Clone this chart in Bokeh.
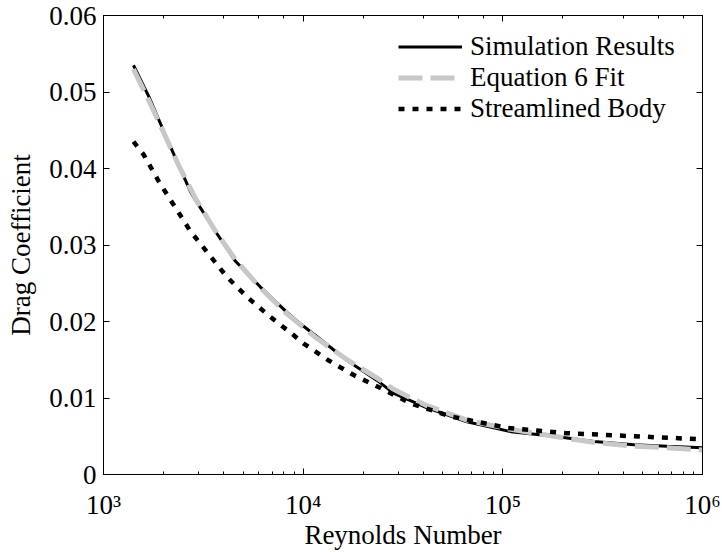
from bokeh.plotting import figure
from bokeh.models import (LogAxis, LinearAxis, Legend, LegendItem, PrintfTickFormatter,
                          FixedTicker, LogTicker)
from bokeh.embed import file_html
from bokeh.resources import INLINE

# Simulation results
sim_re = [1413, 1687, 2009, 2389, 2724, 2884, 3631, 4571, 6109, 8300, 9680, 11740,
          16600, 23450, 28450, 41700, 66100, 109600, 180000, 286000, 454000, 667000, 1000000]
sim_cd = [0.0535, 0.0494, 0.0448, 0.0403, 0.0370, 0.0359, 0.0318, 0.0279, 0.0245, 0.0212,
          0.0197, 0.0180, 0.0149, 0.0123, 0.0106, 0.0087, 0.0069, 0.0056, 0.0050, 0.0043,
          0.0039, 0.0037, 0.0035]

# Equation 6 fit
fit_re = [1413, 1700, 2000, 2400, 2900, 3600, 4600, 6100, 8300, 11700, 16600, 23500,
          28500, 41700, 66100, 109600, 180000, 286000, 454000, 667000, 1000000]
fit_cd = [0.0530, 0.0487, 0.0447, 0.0402, 0.0360, 0.0320, 0.0280, 0.0244, 0.0210, 0.0178,
          0.0150, 0.0126, 0.0111, 0.0090, 0.0071, 0.0059, 0.0050, 0.0042, 0.0037, 0.0035,
          0.0032]

# Streamlined body
str_re = [1413, 1589, 1892, 2291, 2724, 3365, 4159, 5236, 6855, 8970, 10070, 13430,
          17900, 24400, 34450, 54700, 105000, 209000, 454000, 1000000]
str_cd = [0.0435, 0.0418, 0.0383, 0.0349, 0.0318, 0.0288, 0.0258, 0.0232, 0.0206, 0.0182,
          0.0171, 0.0149, 0.0130, 0.0113, 0.0093, 0.0076, 0.0061, 0.0054, 0.0050, 0.0046]

y_ticks = [0, 0.01, 0.02, 0.03, 0.04, 0.05, 0.06]
x_tick_labels = {1000: "10³", 10000: "10⁴", 100000: "10⁵", 1000000: "10⁶"}

FONT = "Liberation Serif"
FS = "27px"

p = figure(width=722, height=552, x_axis_type="log", x_range=(1e3, 1e6), y_range=(0, 0.06),
           output_backend="svg", toolbar_location=None,
           min_border_left=103, min_border_right=20, min_border_top=15, min_border_bottom=75)
p.grid.visible = False
p.outline_line_color = "black"
p.outline_line_width = 1
p.background_fill_color = "white"
p.border_fill_color = "white"

r_sim = p.line(sim_re, sim_cd, line_color="black", line_width=3)
r_fit = p.line(fit_re, fit_cd, line_color="#c8c8c8", line_width=5, line_dash="24 8")
r_str = p.line(str_re, str_cd, line_color="black", line_width=4.5, line_dash="6 8")

for ax in p.xaxis + p.yaxis:
    ax.axis_line_color = "black"
    ax.major_tick_in = 6
    ax.major_tick_out = 0
    ax.minor_tick_in = 3
    ax.minor_tick_out = 0
    ax.major_label_text_font = FONT
    ax.major_label_text_font_size = FS
    ax.major_label_text_color = "black"
    ax.axis_label_text_font = FONT
    ax.axis_label_text_font_size = FS
    ax.axis_label_text_font_style = "normal"
    ax.axis_label_text_color = "black"

p.xaxis.axis_label = "Reynolds Number"
p.xaxis.major_label_overrides = x_tick_labels
p.xaxis.axis_label_standoff = -3
p.xaxis.major_label_standoff = 15

p.yaxis.axis_label = "Drag Coefficient"
p.yaxis.ticker = FixedTicker(ticks=y_ticks)
p.yaxis.formatter = PrintfTickFormatter(format="%g")
p.yaxis.minor_tick_in = 0
p.yaxis.axis_label_standoff = 10
p.yaxis.major_label_standoff = 7

top = LogAxis(ticker=LogTicker(), major_tick_in=6, major_tick_out=0, minor_tick_in=3,
              minor_tick_out=0, major_label_text_color=None,
              major_label_text_font_size="2px", axis_line_color="black")
p.add_layout(top, "above")
right = LinearAxis(ticker=FixedTicker(ticks=y_ticks), major_tick_in=6, major_tick_out=0,
                   minor_tick_in=0, minor_tick_out=0, major_label_text_color=None,
                   major_label_text_font_size="2px", axis_line_color="black")
p.add_layout(right, "right")

legend = Legend(items=[LegendItem(label="Simulation Results", renderers=[r_sim]),
                       LegendItem(label="Equation 6 Fit", renderers=[r_fit]),
                       LegendItem(label="Streamlined Body", renderers=[r_str])],
                location=(295, 350), padding=0, margin=0, spacing=0,
                glyph_width=64, glyph_height=31, label_height=31, label_standoff=8,
                label_text_font=FONT, label_text_font_size=FS, label_text_color="black",
                border_line_color=None, background_fill_alpha=0)
p.add_layout(legend, "center")

open("out.html", "w").write(file_html(p, INLINE))
